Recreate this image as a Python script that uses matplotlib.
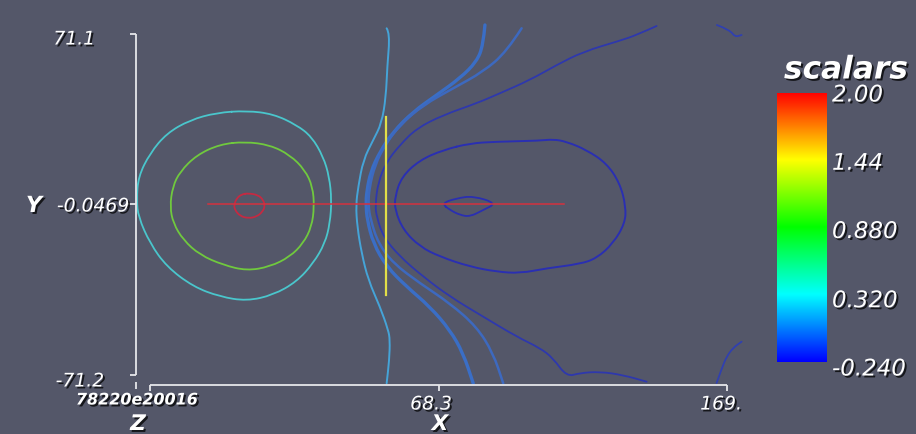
import numpy as np
import matplotlib
matplotlib.use("Agg")
import matplotlib.pyplot as plt
import matplotlib.patheffects as pe
from matplotlib.colors import LinearSegmentedColormap
from matplotlib.path import Path
from matplotlib.patches import PathPatch

# ---------------- data ----------------
x_range = [-32.4, 169.0]
y_range = [-71.2, 71.1]
y_mid_tick = -0.0469
x_tick_values = [68.3, 169.0]
x_tick_labels = ["68.3", "169."]
y_tick_labels = ["71.1", "-0.0469", "-71.2"]
z_tick_label = "78220e20016"   # overlapping, garbled labels of the flat Z axis

scalar_min, scalar_max = -0.240, 2.00
bar_ticks = [2.00, 1.44, 0.880, 0.320, -0.240]
bar_tick_labels = ["2.00", "1.44", "0.880", "0.320", "-0.240"]
bar_title = "scalars"

# contour: outer cyan ring (closed)
ring_cyan_x = [1.34, 10.62, 18.79, 24.02, 28.07, 30.17, 31.00, 30.41, 28.67, 24.58,
               18.79, 10.62, 1.34, -7.98, -17.30, -26.58, -32.41, -36.49, -37.05,
               -36.49, -32.41, -26.58, -18.45, -9.13]
ring_cyan_y = [39.09, 37.72, 33.13, 28.25, 19.90, 11.55, 1.83, -7.89, -16.24, -24.58,
               -32.26, -37.81, -40.32, -38.52, -34.35, -26.00, -16.24, -5.14, 1.83,
               11.55, 21.32, 29.66, 35.21, 38.26]
# contour: green ring (closed)
ring_green_x = [0.75, 9.47, 16.45, 21.69, 24.37, 24.93, 24.02, 21.09, 16.45, 9.47,
                1.34, -6.83, -14.96, -20.79, -24.28, -25.43, -24.49, -21.94, -16.11, -7.98]
ring_green_y = [26.16, 24.78, 20.61, 14.35, 7.38, -0.97, -9.31, -16.24, -21.83, -26.00,
                -27.67, -25.29, -21.12, -14.86, -7.89, -0.97, 7.38, 13.64, 20.61, 25.07]
# contour: small red ring (closed)
ring_red_x = [1.90, 5.39, 7.13, 7.73, 6.92, 4.83, 1.90, -1.00, -2.74, -3.09, -2.15, -0.41]
ring_red_y = [4.63, 3.92, 1.83, -0.67, -3.05, -5.14, -5.81, -4.85, -2.34, -0.26, 2.54, 4.21]

# contour: light blue open curve
curve_light_x = [50.20, 51.35, 50.41, 49.95, 48.45, 45.52, 42.03, 40.29, 39.48, 39.94,
                 41.47, 43.78, 47.86, 50.76, 51.35, 51.11, 50.20]
curve_light_y = [73.48, 71.39, 57.46, 44.94, 33.84, 26.87, 18.52, 7.38, -0.26, -9.31,
                 -20.41, -31.55, -42.70, -52.42, -56.59, -64.94, -74.66]
# contour: medium blue curves
curve_mid_a_x = [84.51, 83.91, 81.61, 75.78, 67.65, 59.48, 52.50, 47.86, 44.61, 43.22,
                 42.97, 43.43, 45.52, 50.20, 57.18, 65.31, 72.29, 76.93, 80.42]
curve_mid_a_y = [74.86, 66.51, 59.54, 52.62, 45.65, 38.68, 30.33, 21.99, 13.64, 5.29,
                 -0.26, -6.52, -16.24, -26.00, -34.35, -42.70, -52.42, -62.14, -74.66]
curve_mid_b_x = [97.31, 92.08, 83.91, 73.44, 62.97, 54.84, 49.61, 46.12, 44.13, 43.78,
                 44.61, 47.27, 52.50, 61.82, 72.29, 81.61, 87.40, 90.89]
curve_mid_b_y = [73.48, 63.72, 55.37, 48.44, 41.47, 33.13, 24.78, 16.44, 6.71, -0.26,
                 -6.52, -16.24, -24.58, -32.93, -41.28, -51.04, -62.14, -74.66]
# contour: dark blue open curve
curve_dark_x = [144.43, 137.45, 131.62, 118.81, 109.53, 100.21, 89.74, 81.61, 69.95, 60.67,
                54.84, 50.20, 47.27, 46.22, 46.71, 49.01, 54.84, 62.97, 72.29, 83.91,
                95.57, 103.70, 108.24, 113.02, 117.66, 124.64, 132.67, 140.94]
curve_dark_y = [74.44, 70.68, 68.31, 63.72, 58.17, 51.91, 46.36, 42.18, 37.30, 31.75,
                24.78, 17.81, 9.47, -0.26, -5.14, -13.49, -21.83, -30.18, -38.52, -46.87,
                -55.21, -59.93, -64.10, -71.91, -70.36, -69.82, -71.20, -73.99]
# contour: dark blue closed oval
oval_dark_x = [79.27, 88.59, 103.70, 108.34, 113.02, 120.00, 126.98, 131.62, 133.71, 133.37,
               129.28, 123.49, 117.66, 106.04, 96.72, 88.59, 79.27, 68.80, 61.82, 55.99,
               53.10, 53.10, 55.43, 61.82, 69.95]
oval_dark_y = [25.49, 26.16, 26.58, 27.16, 26.16, 22.69, 17.14, 8.80, -0.97, -7.89,
               -16.24, -22.50, -24.88, -26.67, -28.76, -28.09, -26.00, -21.83, -17.66, -10.69,
               -2.34, 3.21, 11.55, 18.52, 22.69]
# contour: dark blue small closed lens
lens_dark_x = [69.39, 74.63, 80.42, 88.59, 83.91, 79.27, 75.78, 72.29]
lens_dark_y = [0.45, 2.54, 3.50, 0.45, -2.34, -5.14, -4.43, -2.34]
# contour fragments at the right edge
corner_top_x = [165.47, 170.01, 171.76, 174.09]
corner_top_y = [74.86, 72.77, 69.85, 70.68]
corner_bottom_x = [165.37, 167.22, 168.86, 171.06, 174.09]
corner_bottom_y = [-74.54, -68.28, -63.56, -59.93, -57.30]

# probe lines
probe_red_x = [-12.17, 112.08]
probe_red_y = [0.0, 0.0]
probe_yellow_x = [50.13, 50.13]
probe_yellow_y = [36.47, -37.81]

# ---------------- figure ----------------
W, H = 916, 434
BG = "#545769"
fig = plt.figure(figsize=(W / 100, H / 100), dpi=100, facecolor=BG)

ax = fig.add_axes([150 / W, 59 / H, 577 / W, 341 / H])
ax.set_facecolor(BG)
ax.set_xlim(*x_range)
ax.set_ylim(*y_range)
ax.axis("off")


def smooth_path(x, y, closed=False):
    """Quadratic-Bezier path through midpoints, using the read points as controls."""
    p = np.column_stack([x, y]).astype(float)
    verts, codes = [], []
    if closed:
        n = len(p)
        mids = (p + np.roll(p, -1, axis=0)) / 2.0
        verts.append(mids[-1]); codes.append(Path.MOVETO)
        for i in range(n):
            verts += [p[i], mids[i]]
            codes += [Path.CURVE3, Path.CURVE3]
    else:
        verts.append(p[0]); codes.append(Path.MOVETO)
        for i in range(1, len(p) - 1):
            verts += [p[i], (p[i] + p[i + 1]) / 2.0]
            codes += [Path.CURVE3, Path.CURVE3]
        verts.append(p[-1]); codes.append(Path.LINETO)
    return Path(verts, codes)


def curve(x, y, color, lw, closed=False, z=2):
    patch = PathPatch(smooth_path(x, y, closed), facecolor="none", edgecolor=color,
                      lw=lw, clip_on=False, zorder=z, joinstyle="round", capstyle="round")
    ax.add_patch(patch)


curve(ring_cyan_x, ring_cyan_y, "#4ac6cc", 1.3, closed=True)
curve(ring_green_x, ring_green_y, "#70c93e", 1.3, closed=True)
curve(ring_red_x, ring_red_y, "#c42a42", 1.3, closed=True)
curve(curve_light_x, curve_light_y, "#45a4d8", 1.4)
curve(curve_mid_a_x, curve_mid_a_y, "#3a6ec6", 2.4)
curve(curve_mid_b_x, curve_mid_b_y, "#3d69bf", 1.8)
curve(curve_dark_x, curve_dark_y, "#2e38ad", 1.3)
curve(oval_dark_x, oval_dark_y, "#2a2fb2", 1.4, closed=True)
curve(lens_dark_x, lens_dark_y, "#2a2fb2", 1.3, closed=True)
curve(corner_top_x, corner_top_y, "#3040b0", 1.3)
curve(corner_bottom_x, corner_bottom_y, "#3040b0", 1.3)
ax.plot(probe_red_x, probe_red_y, color="#d4323e", lw=1.1, clip_on=False, zorder=3)
ax.plot(probe_yellow_x, probe_yellow_y, color="#e2df48", lw=1.6, clip_on=False, zorder=4)

# ---------------- cube-axes style decorations ----------------
AX_COL = "#e6e6ea"
px_x = (x_range[1] - x_range[0]) / 577.0   # data units per pixel
px_y = (y_range[1] - y_range[0]) / 341.0
y_axis_x = x_range[0] - 14 * px_x
x_axis_y = y_range[0] - 10 * px_y

axkw = dict(color=AX_COL, lw=1.3, clip_on=False, zorder=5, solid_capstyle="butt")
ax.plot([y_axis_x, y_axis_x], [y_range[0], y_range[1]], **axkw)
for yv, ln in zip([y_range[1], y_mid_tick, y_range[0]], [6, 8, 6]):
    ax.plot([y_axis_x - ln * px_x, y_axis_x], [yv, yv], **axkw)
ax.plot([x_range[0], x_range[1]], [x_axis_y, x_axis_y], **axkw)
for xv in [x_range[0]] + x_tick_values:
    ax.plot([xv, xv], [x_axis_y, x_axis_y - 6 * px_y], **axkw)
ax.plot([y_axis_x, y_axis_x], [x_axis_y + 3 * px_y, x_axis_y - 4 * px_y], **axkw)

shadow = [pe.withSimplePatchShadow(offset=(1.4, -1.4), shadow_rgbFace="black", alpha=0.75)]
tkw = dict(color="white", fontstyle="italic", family="DejaVu Sans",
           path_effects=shadow, zorder=6)


def ftext(px, py, s, **kw):
    opts = dict(tkw)
    opts.update(kw)
    fig.text(px / W, 1 - py / H, s, **opts)


ftext(95, 39, y_tick_labels[0], ha="right", va="center", fontsize=13.5)
ftext(129, 206, y_tick_labels[1], ha="right", va="center", fontsize=13.5)
ftext(104, 381, y_tick_labels[2], ha="right", va="center", fontsize=13.5)
ftext(34, 206, "Y", ha="center", va="center", fontsize=16, fontweight="bold")

ftext(431, 404, x_tick_labels[0], ha="center", va="center", fontsize=13.5)
ftext(721, 404, x_tick_labels[1], ha="center", va="center", fontsize=13.5)
ftext(440, 424, "X", ha="center", va="center", fontsize=15.5, fontweight="bold")

ftext(137, 400, z_tick_label, ha="center", va="center", fontsize=11.5, fontweight="bold")
ftext(138, 424, "Z", ha="center", va="center", fontsize=15.5, fontweight="bold")

# ---------------- scalar bar ----------------
cmap = LinearSegmentedColormap.from_list(
    "rainbow_pv", ["#0000ff", "#00ffff", "#00ff00", "#ffff00", "#ff0000"])
cax = fig.add_axes([777 / W, (H - 362) / H, 50 / W, 269 / H])
grad = np.linspace(scalar_min, scalar_max, 256).reshape(-1, 1)
cax.imshow(grad, aspect="auto", cmap=cmap, origin="lower",
           extent=[0, 1, scalar_min, scalar_max], vmin=scalar_min, vmax=scalar_max)
cax.set_xlim(0, 1)
cax.set_ylim(scalar_min, scalar_max)
cax.axis("off")

for v, lab, off in zip(bar_ticks, bar_tick_labels, [-2, -3, -4, -6, -7]):
    cax.annotate(lab, xy=(1.1, v), xycoords=("axes fraction", "data"),
                 xytext=(0, off), textcoords="offset pixels",
                 ha="left", va="center", fontsize=16.5, annotation_clip=False, **tkw)

ftext(846, 70, bar_title, ha="center", va="center", fontsize=22.5, fontweight="bold")

fig.savefig("out.png", dpi=100, facecolor=BG)
